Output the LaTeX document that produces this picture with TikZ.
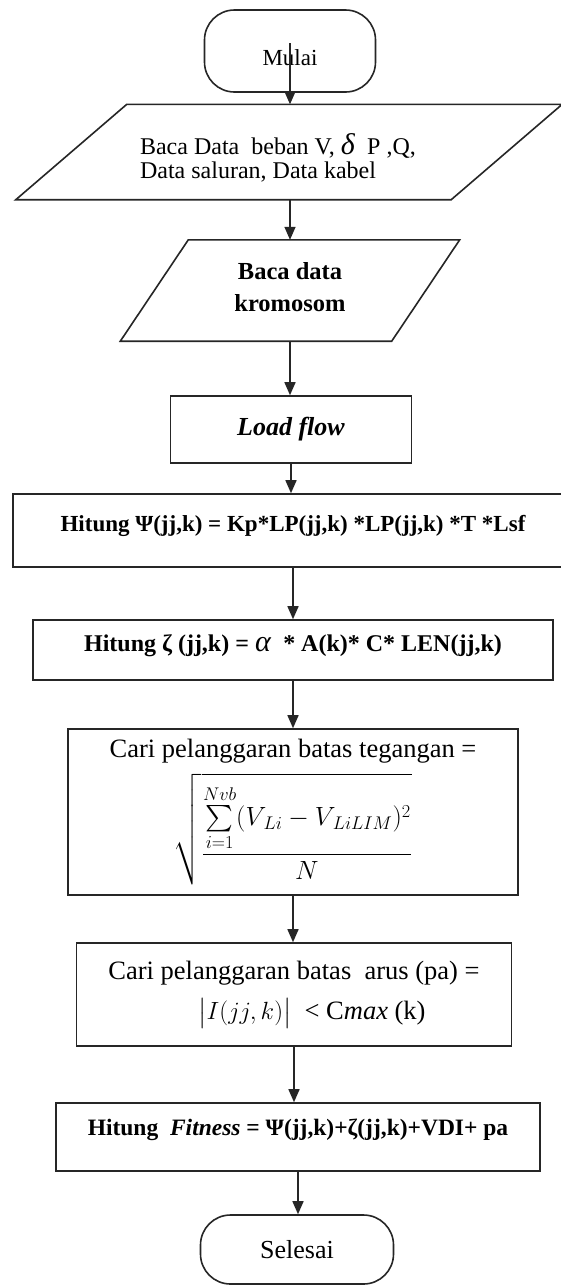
\documentclass[tikz,border=0pt]{standalone}
\usepackage{fontspec}
\usepackage{amsmath}
\usepackage{graphicx}
\setmainfont{Liberation Serif}
\usetikzlibrary{arrows.meta,calc}
\tikzset{
  boxline/.style={draw=black!85, line width=1.6pt},
  procbox/.style={boxline, rectangle, inner sep=0pt, align=center},
  termbox/.style={boxline, rectangle, rounded corners=30pt, inner sep=0pt, align=center},
  iobox/.style={rectangle, inner sep=0pt, align=center},
  arr/.style={draw=black!85, line width=1.5pt, -{Triangle[width=11pt,length=13pt]}},
}
\newcommand{\fs}[2]{\fontsize{#1}{#2}\selectfont}
\begin{document}
\begin{tikzpicture}[x=1pt,y=-1pt]
\useasboundingbox[fill=white] (0,0) rectangle (560,1286);

% nodes
\node[termbox, minimum width=171pt, minimum height=82pt, font=\fs{23}{26},
      text height=28pt, text depth=0pt] (mulai) at (290,51) {Mulai};

\node[iobox, minimum width=435pt, minimum height=95pt,
      label={[name=p1t, align=left, font=\fs{24}{24}, inner sep=0pt, xshift=-11pt, yshift=-6pt]center:{Baca Data\ \ beban V, \textit{\fs{30}{24}δ}\ \ P ,Q,\\Data saluran, Data kabel}}] (p1) at (289,152) {};
\draw[boxline] ([xshift=55.5pt]p1.north west) -- ([xshift=55.5pt]p1.north east)
  -- ([xshift=-55.5pt]p1.south east) -- ([xshift=-55.5pt]p1.south west) -- cycle;

\node[iobox, minimum width=271pt, minimum height=101pt,
      label={[name=p2t, align=center, font=\fs{24.5}{32}\bfseries, inner sep=0pt, yshift=3pt]center:{Baca data\\kromosom}}] (p2) at (290,290.5) {};
\draw[boxline] ([xshift=34pt]p2.north west) -- ([xshift=34pt]p2.north east)
  -- ([xshift=-34pt]p2.south east) -- ([xshift=-34pt]p2.south west) -- cycle;

\node[procbox, minimum width=241pt, minimum height=67pt, font=\fs{26}{28}\bfseries\itshape] (load) at (291,429.5) {Load flow};

\node[procbox, minimum width=560pt, minimum height=73pt, font=\fs{23}{26}\bfseries,
      text height=16pt, text depth=15pt] (psi) at (293,530.5)
  {Hitung Ψ(jj,k) = Kp*LP(jj,k) *LP(jj,k) *T *Lsf};

\node[procbox, minimum width=520pt, minimum height=60pt, font=\fs{24}{26}\bfseries,
      text height=17pt, text depth=15pt] (zeta) at (293,650)
  {Hitung ζ (jj,k) = \textit{\fs{30}{26}\mdseries α}\ \ * A(k)* C* LEN(jj,k)};

\node[procbox, minimum width=450pt, minimum height=166pt, font=\fs{26.5}{28}] (cari1) at (293,812)
  {Cari pelanggaran batas tegangan =\\[9pt]
   \scalebox{1.06}{$\displaystyle \sqrt{\frac{\sum\limits_{i=1}^{Nvb}(V_{\,Li}-V_{\,LiLIM})^{2}}{N}}$}};

\node[procbox, minimum width=435pt, minimum height=103pt, font=\fs{26.5}{28}] (cari2) at (294,994.5)
  {Cari pelanggaran batas\ \ arus (pa) =\\[12pt]
   \hspace*{36pt}$\bigl|I(jj,k)\bigr|$\ \ < C\textit{max} (k)};

\node[procbox, minimum width=484pt, minimum height=68pt, font=\fs{23.5}{26}\bfseries,
      text height=16pt, text depth=19pt] (fit) at (298,1137)
  {Hitung\ \ \textit{Fitness} = Ψ(jj,k)+ζ(jj,k)+VDI+ pa};

\node[termbox, minimum width=193pt, minimum height=69pt, font=\fs{26}{28}] (sel) at (297,1249.5) {Selesai};

% connectors
\draw[arr] ([yshift=8pt]mulai.center) -- (mulai.center |- p1.north);
\draw[arr] (p1.south -| mulai.center) -- (mulai.center |- p2.north);
\draw[arr] (p2.south -| mulai.center) -- (mulai.center |- load.north);
\draw[arr] (load.south) -- (load.south |- psi.north);
\draw[arr] (psi.south) -- (psi.south |- zeta.north);
\draw[arr] (zeta.south) -- (zeta.south |- cari1.north);
\draw[arr] (cari1.south) -- (cari1.south |- cari2.north);
\draw[arr] (cari2.south) -- (cari2.south |- fit.north);
\draw[arr] (fit.south) -- (fit.south |- sel.north);
\end{tikzpicture}
\end{document}
